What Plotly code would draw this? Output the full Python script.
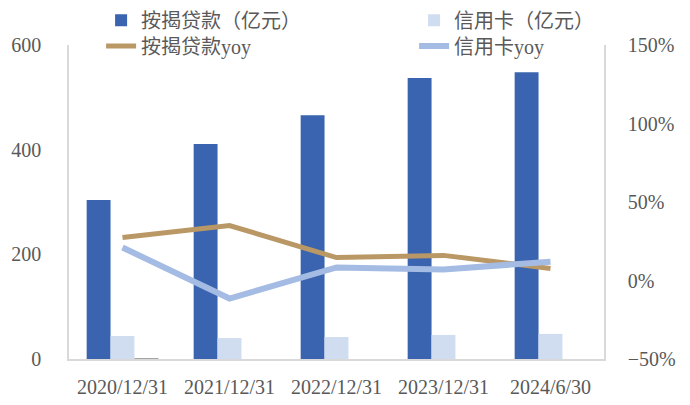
import plotly.graph_objects as go

categories = ["2020/12/31", "2021/12/31", "2022/12/31", "2023/12/31", "2024/6/30"]
mortgage = [304, 411, 466, 537, 548]
credit_card = [44, 40, 42, 46, 48]
other = [1.5, 0, 0, 0, 0]
mortgage_yoy = [0.274, 0.35, 0.146, 0.16, 0.076]
credit_yoy = [0.21, -0.115, 0.083, 0.07, 0.12]

FONT = "Liberation Serif, Noto Sans CJK SC, serif"
GREY = "#595959"
AXIS = "#D9D9D9"
FS = 20

fig = go.Figure()
fig.add_trace(go.Bar(x=categories, y=mortgage, name="按揭贷款（亿元）", legend="legend",
                     marker=dict(color="#3A64AF", line=dict(width=0))))
fig.add_trace(go.Bar(x=categories, y=credit_card, name="信用卡（亿元）", legend="legend2",
                     marker=dict(color="#D0DDF0", line=dict(width=0))))
fig.add_trace(go.Bar(x=categories, y=other, name="其他", showlegend=False,
                     marker=dict(color="#A5A5A5", line=dict(width=0))))
fig.add_trace(go.Scatter(x=categories, y=mortgage_yoy, name="按揭贷款yoy", yaxis="y2",
                         legend="legend3", mode="lines",
                         line=dict(color="#BA9865", width=5)))
fig.add_trace(go.Scatter(x=categories, y=credit_yoy, name="信用卡yoy", yaxis="y2",
                         legend="legend4", mode="lines",
                         line=dict(color="#A4BBE3", width=6)))

def leg(x, y):
    return dict(orientation="h", x=x, xanchor="left", y=y, yanchor="middle",
                font=dict(size=FS, color=GREY), bgcolor="rgba(0,0,0,0)",
                itemwidth=30)

fig.update_layout(
    width=682, height=397,
    margin=dict(l=61, r=86, t=37, b=46, autoexpand=False),
    paper_bgcolor="white", plot_bgcolor="white",
    font=dict(family=FONT, size=FS, color=GREY),
    barmode="group", bargap=0.33, bargroupgap=0,
    xaxis=dict(showline=True, linecolor=AXIS, linewidth=1.5, showgrid=False,
               ticks="", ticklabelstandoff=9, tickfont=dict(size=FS, color=GREY)),
    yaxis=dict(range=[0, 600], dtick=200, showgrid=False, zeroline=False,
               showline=True, linecolor=AXIS, linewidth=1.5, ticks="",
               ticklabelstandoff=22, tickfont=dict(size=FS, color=GREY)),
    yaxis2=dict(range=[-0.5, 1.5], dtick=0.5, tickformat=".0%", overlaying="y",
                side="right", showgrid=False, zeroline=False,
                showline=True, linecolor=AXIS, linewidth=1.5, ticks="",
                ticklabelstandoff=18, tickfont=dict(size=FS, color=GREY)),
    legend=leg(0.06, 1.079),
    legend2=leg(0.645, 1.079),
    legend3=leg(0.06, 0.997),
    legend4=leg(0.645, 0.997),
    showlegend=True,
)

fig.write_html("out.html")
